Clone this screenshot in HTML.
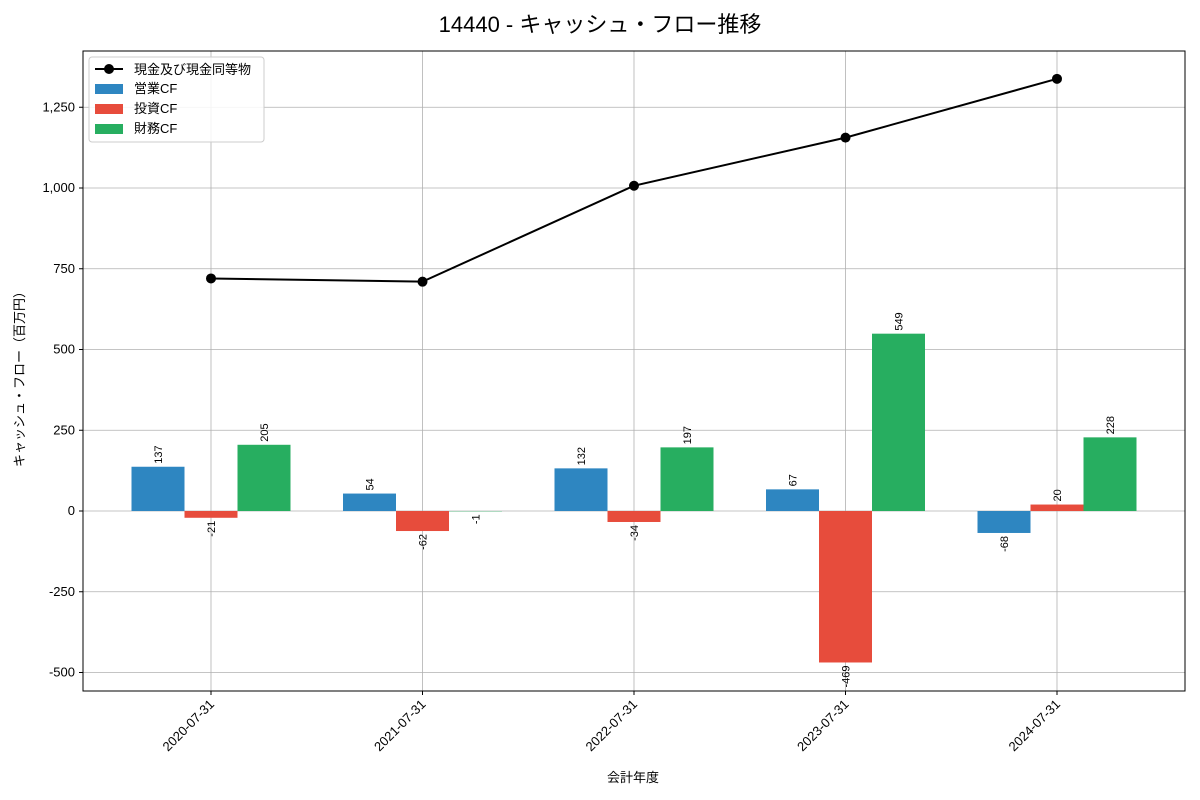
<!DOCTYPE html>
<html><head><meta charset="utf-8">
<style>
body{margin:0;background:#fff;}
svg{display:block;font-family:"Liberation Sans","Noto Sans CJK JP",sans-serif;}
</style></head>
<body>
<svg id="chart" width="1200" height="800"></svg>
<script>
const categories=["2020-07-31","2021-07-31","2022-07-31","2023-07-31","2024-07-31"];
const cashValues=[720,710,1007,1156,1338];
const opValues=[137,54,132,67,-68];
const invValues=[-21,-62,-34,-469,20];
const finValues=[205,-1,197,549,228];
const yTicks=[-500,-250,0,250,500,750,1000,1250];

const NS="http://www.w3.org/2000/svg";
const svg=document.getElementById('chart');
const L=83,R=1185,T=51,B=691;
const x0=211,dx=211.5,bw=53;
function xs(i){return x0+i*dx;}
function ys(v){return 511-v*80.75/250;}
function mk(tag,attrs,parent){const e=document.createElementNS(NS,tag);for(const k in attrs)e.setAttribute(k,attrs[k]);(parent||svg).appendChild(e);return e;}
function fmt(v){return v.toLocaleString('en-US');}

// grid
yTicks.forEach(t=>{
  const g=mk('line',{x1:L,x2:R,y1:ys(t),y2:ys(t),stroke:'#b0b0b0','stroke-width':0.8});
  
  
  const tl=mk('line',{x1:L-4,x2:L,y1:ys(t),y2:ys(t),stroke:'#000'});
  
  
  const tx=mk('text',{x:L-8,y:ys(t)+4,'text-anchor':'end','font-size':13});
  tx.textContent=fmt(t);
  
  
});
categories.forEach((c,i)=>{
  const g=mk('line',{x1:xs(i),x2:xs(i),y1:T,y2:B,stroke:'#b0b0b0','stroke-width':0.8});
  
  
  const tl=mk('line',{x1:xs(i),x2:xs(i),y1:B,y2:B+4,stroke:'#000'});
  
  
  const tx=mk('text',{x:xs(i)+4,y:B+14,'text-anchor':'end','font-size':13,transform:`rotate(-45 ${xs(i)+4} ${B+14})`});
  tx.textContent=c;
  
  
});

// bars
const series=[[opValues,'#2e86c1',-1,'operating-cf'],[invValues,'#e74c3c',0,'investing-cf'],[finValues,'#27ae60',1,'financing-cf']];
series.forEach(([vals,col,off,nm])=>{
  vals.forEach((v,i)=>{
    const cx=xs(i)+off*bw;
    const y1=ys(Math.max(v,0)),y2=ys(Math.min(v,0));
    const r=mk('rect',{x:cx-bw/2,y:y1,width:bw,height:Math.max(y2-y1,0.01),fill:col});
    
    
    const ly=v>=0?ys(v)-3:ys(v)+3;
    const t=mk('text',{x:cx+4,y:ly,'font-size':11,'text-anchor':v>=0?'start':'end',transform:`rotate(-90 ${cx+4} ${ly})`});
    t.textContent=String(v);
    
    
  });
});

// line
const pts=cashValues.map((v,i)=>xs(i)+','+ys(v)).join(' ');
const pl=mk('polyline',{points:pts,fill:'none',stroke:'#000','stroke-width':2});


cashValues.forEach((v,i)=>{
  const c=mk('circle',{cx:xs(i),cy:ys(v),r:5,fill:'#000'});
  
  
});

// frame
const fr=mk('rect',{x:L,y:T,width:R-L,height:B-T,fill:'none',stroke:'#000','stroke-width':1});


</script>
<svg style="position:absolute;left:0;top:0" width="1200" height="800">
<text x="600" y="32" text-anchor="middle" font-size="22" font-family="Liberation Sans,Noto Sans CJK JP,sans-serif">14440 - キャッシュ・フロー推移</text>
<text x="633" y="782" text-anchor="middle" font-size="13" font-family="Liberation Sans,Noto Sans CJK JP,sans-serif">会計年度</text>
<text x="24" y="376" text-anchor="middle" font-size="13" transform="rotate(-90 24 376)" font-family="Liberation Sans,Noto Sans CJK JP,sans-serif">キャッシュ・フロー（百万円）</text>
<g font-family="Liberation Sans,Noto Sans CJK JP,sans-serif" font-size="13">
<rect x="89" y="57" width="175" height="85" rx="3" fill="#fff" fill-opacity="0.85" stroke="#ccc"/>
<g><line x1="95" x2="123" y1="69" y2="69" stroke="#000" stroke-width="2"/><circle cx="109" cy="69" r="5"/><text x="134" y="74">現金及び現金同等物</text></g>
<g><rect x="95" y="84" width="28" height="10" fill="#2e86c1"/><text x="134" y="93">営業CF</text></g>
<g><rect x="95" y="104" width="28" height="10" fill="#e74c3c"/><text x="134" y="113">投資CF</text></g>
<g><rect x="95" y="124" width="28" height="10" fill="#27ae60"/><text x="134" y="133">財務CF</text></g>
</g>
</svg>
</body></html>
